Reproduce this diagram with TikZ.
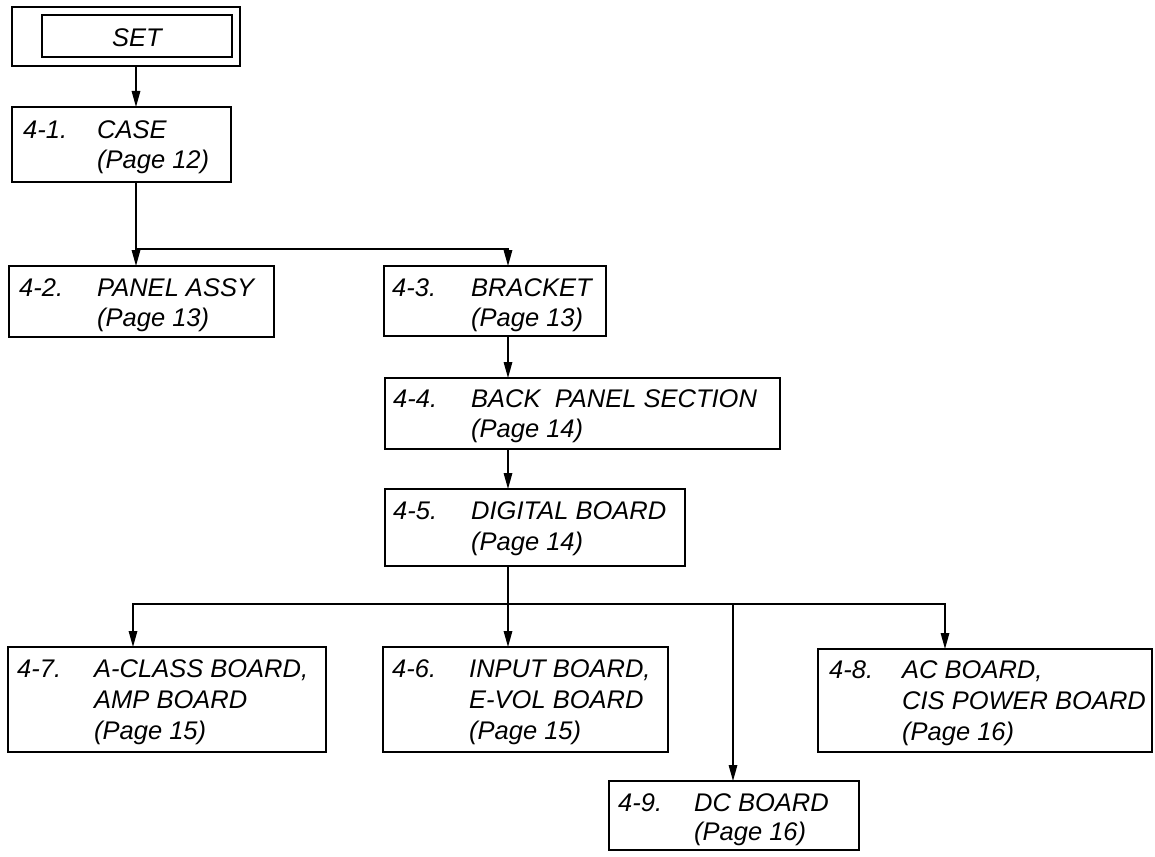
\documentclass[tikz,border=0pt]{standalone}
\usepackage{fontspec}
\setmainfont{Liberation Sans}
\usetikzlibrary{arrows.meta}
\begin{document}
\begin{tikzpicture}[x=1pt,y=-1pt,
  bx/.style={draw=black,line width=1.6pt,anchor=north west,inner sep=0pt,outer sep=0pt},
  lbl/.style={anchor=base west,inner sep=0pt,font=\fontsize{25.5}{30}\selectfont\itshape},
  ln/.style={draw=black,line width=1.5pt},
  arr/.style={ln,-{Triangle[length=16pt,width=8.5pt]}}]
\useasboundingbox (0,0) rectangle (1155,856);
% boxes
\node[bx,minimum width=228pt,minimum height=59pt] (setouter) at (12,7) {};
\node[bx,minimum width=190pt,minimum height=42pt] (setinner) at (42,15) {};
\node[lbl,anchor=base] (settxt) at (137,47) {SET};
\node[bx,minimum width=219pt,minimum height=75pt] (case) at (12,107) {};
\node[bx,minimum width=265pt,minimum height=71pt] (panel) at (9,266) {};
\node[bx,minimum width=222pt,minimum height=70pt] (bracket) at (384,266) {};
\node[bx,minimum width=395pt,minimum height=71pt] (back) at (385,378) {};
\node[bx,minimum width=300pt,minimum height=77pt] (digital) at (385,489) {};
\node[bx,minimum width=318pt,minimum height=105pt] (aclass) at (8,647) {};
\node[bx,minimum width=285pt,minimum height=105pt] (input) at (383,647) {};
\node[bx,minimum width=334pt,minimum height=103pt] (ac) at (818,649) {};
\node[bx,minimum width=250pt,minimum height=69pt] (dc) at (609,781) {};
% labels
\node[lbl] (case1) at ([shift={(11,31)}]case.north west) {4-1.};
\node[lbl] (case2) at ([shift={(85,31)}]case.north west) {CASE};
\node[lbl] (case3) at ([shift={(85,61)}]case.north west) {(Page 12)};
\node[lbl] (panel1) at ([shift={(10,30)}]panel.north west) {4-2.};
\node[lbl] (panel2) at ([shift={(88,30)}]panel.north west) {PANEL ASSY};
\node[lbl] (panel3) at ([shift={(88,60)}]panel.north west) {(Page 13)};
\node[lbl] (bracket1) at ([shift={(8,30)}]bracket.north west) {4-3.};
\node[lbl] (bracket2) at ([shift={(87,30)}]bracket.north west) {BRACKET};
\node[lbl] (bracket3) at ([shift={(87,60)}]bracket.north west) {(Page 13)};
\node[lbl] (back1) at ([shift={(8,29)}]back.north west) {4-4.};
\node[lbl] (back2) at ([shift={(86,29)}]back.north west) {BACK\ \ PANEL SECTION};
\node[lbl] (back3) at ([shift={(86,59)}]back.north west) {(Page 14)};
\node[lbl] (digital1) at ([shift={(8,30)}]digital.north west) {4-5.};
\node[lbl] (digital2) at ([shift={(86,30)}]digital.north west) {DIGITAL BOARD};
\node[lbl] (digital3) at ([shift={(86,61)}]digital.north west) {(Page 14)};
\node[lbl] (aclass1) at ([shift={(9,30)}]aclass.north west) {4-7.};
\node[lbl] (aclass2) at ([shift={(86,30)}]aclass.north west) {A-CLASS BOARD,};
\node[lbl] (aclass3) at ([shift={(86,61)}]aclass.north west) {AMP BOARD};
\node[lbl] (aclass4) at ([shift={(86,92)}]aclass.north west) {(Page 15)};
\node[lbl] (input1) at ([shift={(9,30)}]input.north west) {4-6.};
\node[lbl] (input2) at ([shift={(86,30)}]input.north west) {INPUT BOARD,};
\node[lbl] (input3) at ([shift={(86,61)}]input.north west) {E-VOL BOARD};
\node[lbl] (input4) at ([shift={(86,92)}]input.north west) {(Page 15)};
\node[lbl] (ac1) at ([shift={(11,29)}]ac.north west) {4-8.};
\node[lbl] (ac2) at ([shift={(84,29)}]ac.north west) {AC BOARD,};
\node[lbl] (ac3) at ([shift={(84,60)}]ac.north west) {CIS POWER BOARD};
\node[lbl] (ac4) at ([shift={(84,91)}]ac.north west) {(Page 16)};
\node[lbl] (dc1) at ([shift={(9,30)}]dc.north west) {4-9.};
\node[lbl] (dc2) at ([shift={(85,30)}]dc.north west) {DC BOARD};
\node[lbl] (dc3) at ([shift={(85,59)}]dc.north west) {(Page 16)};
% columns and junctions
\coordinate (cA) at (136,0);
\coordinate (cB) at (508,0);
\coordinate (cC) at (133,0);
\coordinate (cD) at (733,0);
\coordinate (cE) at (945,0);
\coordinate (j1) at (136,249);
\coordinate (j2) at (508,604);
% connectors
\draw[arr] (setouter.south -| cA) -- (case.north -| cA);
\draw[arr] (case.south -| cA) -- (panel.north -| cA);
\draw[arr] (j1) -| (bracket.north -| cB);
\draw[arr] (bracket.south -| cB) -- (back.north -| cB);
\draw[arr] (back.south -| cB) -- (digital.north -| cB);
\draw[arr] (digital.south -| cB) -- (input.north -| cB);
\draw[arr] (j2) -| (aclass.north -| cC);
\draw[arr] (j2) -| (ac.north -| cE);
\draw[arr] (j2 -| cD) -- (dc.north -| cD);
\end{tikzpicture}
\end{document}
